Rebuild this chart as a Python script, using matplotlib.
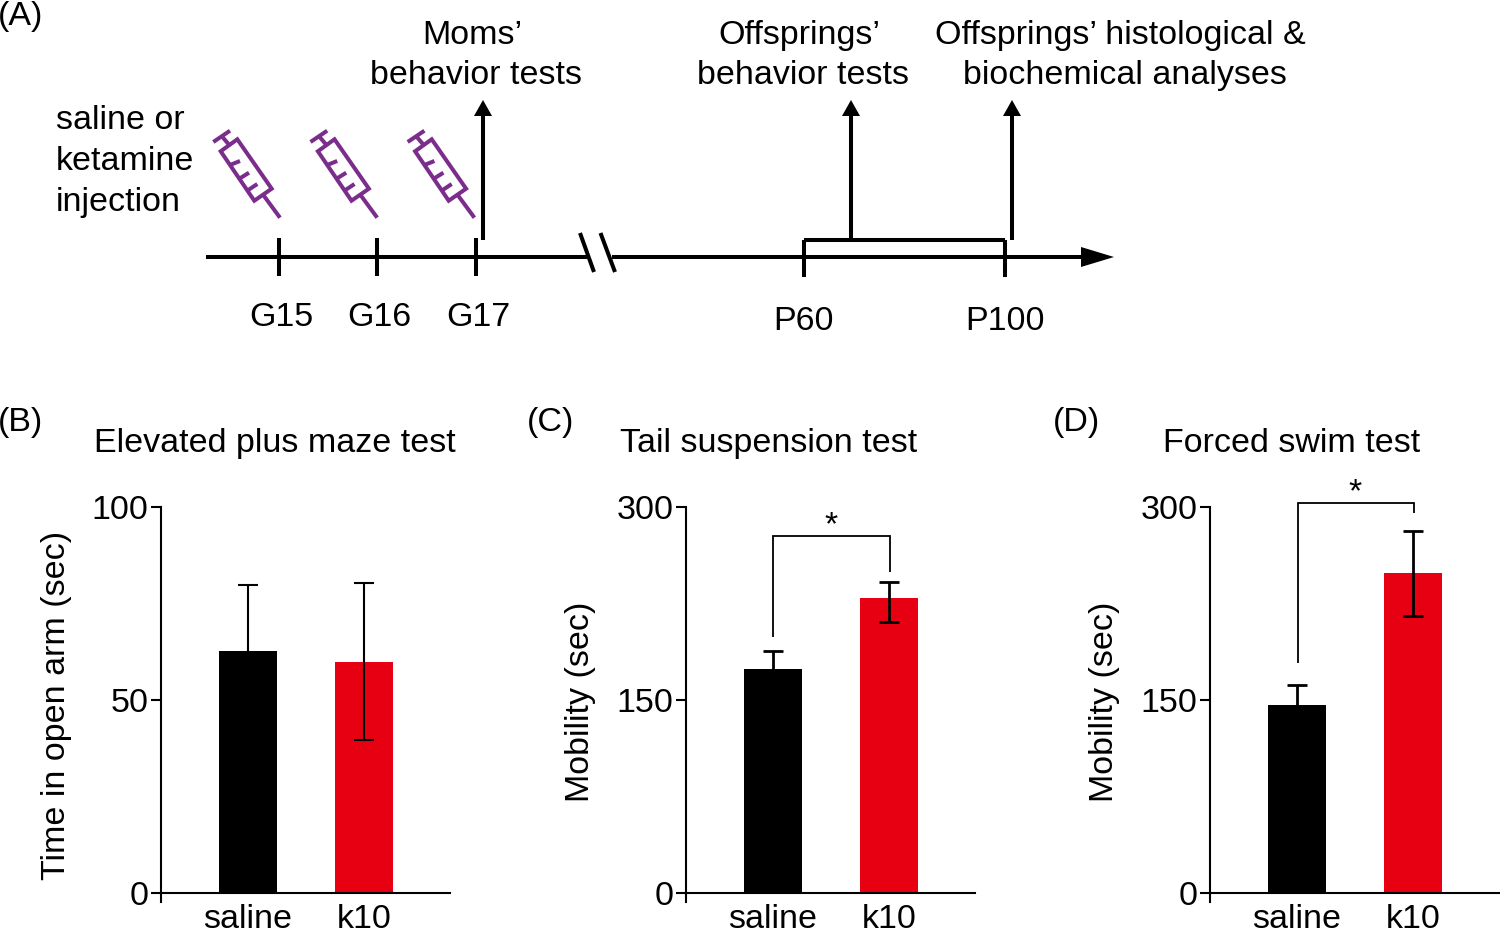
import matplotlib
matplotlib.use('Agg')
import matplotlib.pyplot as plt
from matplotlib.patches import Polygon

plt.rcParams['font.family'] = ['Liberation Sans', 'DejaVu Sans']

W, H = 1500, 930
FS = 24.5

# bar data
groups = ['saline', 'k10']
bar_colors = ['#000000', '#E60012']

epm_means = [62.7, 59.9]
epm_upper = [79.8, 80.4]
epm_lower = [45.6, 39.6]

tail_means = [174, 229]
tail_upper = [188, 242]
tail_lower = [160, 211]

swim_means = [146, 249]
swim_upper = [162, 281]
swim_lower = [130, 215]

# timeline labels
gest_days = ['G15', 'G16', 'G17']
post_days = ['P60', 'P100']

fig = plt.figure(figsize=(15, 9.3), dpi=100)


def px_axes(left, right, top, bottom):
    return fig.add_axes([left / W, 1 - bottom / H, (right - left) / W, (bottom - top) / H])


def bar_panel(left, title, title_x, ylabel, ylabel_x, ylabel_y, ymax, ticks, means, upper, lower, lw):
    # axes runs a little below zero so the y spine overshoots the baseline
    ax = px_axes(left, left + 289, 507, 902)
    ax.set_xlim(-0.75, 1.742)
    ax.set_ylim(-ymax * 9 / 386, ymax)
    x = [0, 1]
    ax.bar(x, means, width=0.5, color=bar_colors, zorder=2)
    yerr = [[m - l for m, l in zip(means, lower)], [u - m for u, m in zip(upper, means)]]
    ax.errorbar(x, means, yerr=yerr, fmt='none', ecolor='black', elinewidth=lw,
                capsize=7.5, capthick=lw, zorder=3)
    for s in ['top', 'right']:
        ax.spines[s].set_visible(False)
    ax.spines['bottom'].set_position(('data', 0))
    ax.spines['left'].set_linewidth(1.5)
    ax.spines['bottom'].set_linewidth(1.5)
    ax.set_yticks(ticks)
    ax.tick_params(axis='y', length=7, width=1.5, labelsize=FS, pad=2)
    ax.set_xticks(x)
    ax.set_xticklabels(groups, fontsize=FS)
    ax.tick_params(axis='x', length=0, pad=8)
    ax.patch.set_alpha(0)
    fig.text(title_x / W, 1 - 443 / H, title, fontsize=FS, ha='center', va='center')
    fig.text(ylabel_x / W, 1 - ylabel_y / H, ylabel, fontsize=FS, rotation=90, ha='center', va='center')
    return ax


bar_panel(161, 'Elevated plus maze test', 275, 'Time in open arm (sec)', 56, 705, 100, [0, 50, 100],
          epm_means, epm_upper, epm_lower, 1.5)
bar_panel(686, 'Tail suspension test', 769, 'Mobility (sec)', 581, 702, 300, [0, 150, 300],
          tail_means, tail_upper, tail_lower, 2)
bar_panel(1210, 'Forced swim test', 1292, 'Mobility (sec)', 1105, 702, 300, [0, 150, 300],
          swim_means, swim_upper, swim_lower, 2)

# overlay in pixel coordinates for the schematic and annotations
ov = fig.add_axes([0, 0, 1, 1])
ov.set_xlim(0, W)
ov.set_ylim(H, 0)
ov.axis('off')
ov.patch.set_alpha(0)


def line(xs, ys, lw=2.9, color='black', cap='butt'):
    ov.plot(xs, ys, color=color, lw=lw, solid_capstyle=cap, solid_joinstyle='miter')


def up_arrow(x, y0, y1):
    line([x, x], [y0, y1 + 10])
    ov.add_patch(Polygon([(x - 9, y1 + 16), (x + 9, y1 + 16), (x, y1)], closed=True, color='black', lw=0))


def syringe(dx):
    c = '#7B2D8B'
    lw = 2.9
    barrel = [(237.3, 139.3), (271.7, 188.7), (254.3, 200.7), (220.7, 151.3)]
    ov.add_patch(Polygon([(a + dx, b) for a, b in barrel], closed=True, fill=False, edgecolor=c, lw=lw))
    line([263.3 + dx, 280 + dx], [195, 217.7], lw=lw, color=c)
    line([229.3 + dx, 222.7 + dx], [145, 137.3], lw=lw, color=c)
    line([213.3 + dx, 230 + dx], [142, 130.7], lw=lw, color=c)
    for x0, y0, x1, y1 in [(230, 165, 240, 161), (240, 178.3, 249, 172.7),
                           (248.3, 190, 257.3, 184)]:
        line([x0 + dx, x1 + dx], [y0, y1], lw=lw, color=c)


# timeline
line([206, 587], [257, 257])
line([612, 1085], [257, 257])
ov.add_patch(Polygon([(1081, 247), (1114, 257), (1081, 267)], closed=True, color='black', lw=0))
line([580, 594], [233, 272])
line([600.5, 615], [233, 272])

for i, (x, label) in enumerate(zip([279, 377, 476], gest_days)):
    line([x, x], [238, 276])
    ov.text(x + 2, 317, label, fontsize=FS, ha='center', va='center')
    syringe(i * 97.2)

for x, label in zip([804, 1005], post_days):
    line([x, x], [277, 240])
    ov.text(x, 321, label, fontsize=FS, ha='center', va='center')
line([804, 1005], [240, 240])

up_arrow(483, 240, 100)
up_arrow(851, 240, 100)
up_arrow(1012, 240, 100)

# header lines are not centred on each other in the original, so placed one by one
for x, y, s in [(472, 35.5, 'Moms’'), (476, 75.5, 'behavior tests'),
                (799.5, 35.5, 'Offsprings’'), (803, 75.5, 'behavior tests'),
                (1120, 35.5, 'Offsprings’ histological &'), (1125, 75.5, 'biochemical analyses')]:
    ov.text(x, y, s, fontsize=FS, ha='center', va='center')

for y, s in [(120.5, 'saline or'), (161.5, 'ketamine'), (202.5, 'injection')]:
    ov.text(56, y, s, fontsize=FS, ha='left', va='center')

# panel letters
for x, y, s in [(-2, 17, '(A)'), (-2, 422, '(B)'), (527, 422, '(C)'), (1053, 422, '(D)')]:
    ov.text(x, y, s, fontsize=FS, ha='left', va='center')

# significance brackets
line([773, 773, 889.5, 889.5], [637, 536, 536, 572], lw=1.3)
ov.text(831, 526, '*', fontsize=FS, ha='center', va='center')
line([1298, 1298, 1413.5, 1413.5], [663, 503, 503, 513], lw=1.3)
ov.text(1355, 493, '*', fontsize=FS, ha='center', va='center')

fig.savefig('out.png', dpi=100)
